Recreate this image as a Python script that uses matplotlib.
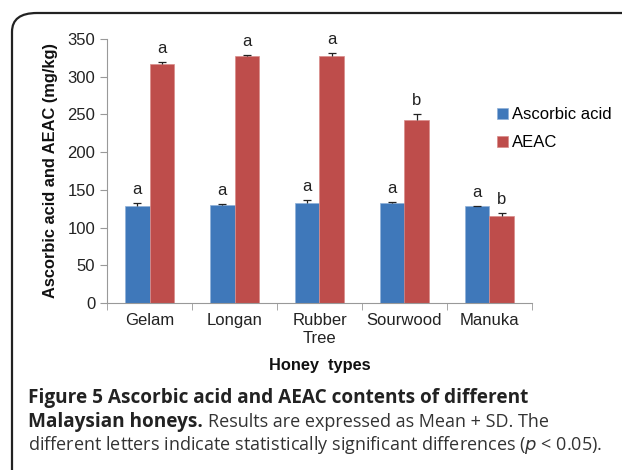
import matplotlib
matplotlib.use("Agg")
import matplotlib.pyplot as plt
import numpy as np
from matplotlib.patches import FancyBboxPatch

# honey types and values (mg/kg)
honeys = ["Gelam", "Longan", "Rubber\nTree", "Sourwood", "Manuka"]
ascorbic = [129, 130, 133, 132, 128]
ascorbic_sd = [4, 1, 3, 2, 1]
aeac = [317, 327, 328, 242, 115]
aeac_sd = [3, 2, 3, 8, 4]
ascorbic_letters = ["a", "a", "a", "a", "a"]
aeac_letters = ["a", "a", "a", "b", "b"]

blue = "#3F78BA"
red = "#BE4D4B"

plt.rcParams['font.family'] = ['Liberation Sans', 'DejaVu Sans']

fig = plt.figure(figsize=(6.22, 4.70), dpi=100)

# rounded frame round the figure
frame = FancyBboxPatch((12/622, -0.2), 1.2, 1 - 13/470 + 0.2,
                       boxstyle="round,pad=0,rounding_size=0.04",
                       transform=fig.transFigure, fill=False,
                       edgecolor="#222222", linewidth=1.6, clip_on=False)
fig.patches.append(frame)

ax = fig.add_axes([107/622, 1 - 303/470, 425/622, 264/470])

x = np.arange(len(honeys))
w = 0.286
ax.bar(x - w/2, ascorbic, w, color=blue, edgecolor="#8FB0D8", linewidth=0.5,
       label="Ascorbic acid", zorder=2)
ax.bar(x + w/2, aeac, w, color=red, edgecolor="#D98C8A", linewidth=0.5,
       label="AEAC", zorder=2)

# Mean + SD, upper whisker only
for vals, sd, off in [(ascorbic, ascorbic_sd, -w/2), (aeac, aeac_sd, w/2)]:
    eb = ax.errorbar(x + off, vals, yerr=[np.zeros(5), sd], fmt="none",
                     ecolor="#222222", elinewidth=0.9, capsize=3, capthick=0.9,
                     zorder=3)
    eb[1][0].set_visible(False)   # hide lower caps

for i in range(len(honeys)):
    ax.text(x[i] - w/2, ascorbic[i] + ascorbic_sd[i] + 8, ascorbic_letters[i],
            ha="center", va="bottom", fontsize=12, color="#222222")
    ax.text(x[i] + w/2, aeac[i] + aeac_sd[i] + 8, aeac_letters[i],
            ha="center", va="bottom", fontsize=12, color="#222222")

ax.set_xlim(-0.5, 4.5)
ax.set_ylim(0, 350)
ax.set_yticks(range(0, 351, 50))
ax.set_xticks(x)
ax.set_xticklabels(honeys, fontsize=12, color="#222222", linespacing=1.25)
ax.set_xticks(np.arange(-0.5, 5, 1), minor=True)
ax.tick_params(axis="x", which="major", length=0, pad=7)
ax.tick_params(axis="x", which="minor", length=5, color="#999999", direction="out")
ax.tick_params(axis="y", length=5, color="#999999", labelsize=12, labelcolor="#222222")

for s in ["top", "right"]:
    ax.spines[s].set_visible(False)
ax.spines["left"].set_color("#999999")
ax.spines["bottom"].set_color("#999999")

ax.set_ylabel("Ascorbic acid and AEAC (mg/kg)", fontsize=11.8, fontweight="bold",
              labelpad=7, color="#111111")
ax.set_xlabel("Honey  types", fontsize=11.8, fontweight="bold", labelpad=9,
              color="#111111")

fig.legend(loc="upper left", bbox_to_anchor=(482/622, 1 - 92/470), frameon=False,
           fontsize=12, handlelength=0.65, handleheight=0.65, handletextpad=0.25,
           labelspacing=0.8)

# caption
cap_bold = dict(fontsize=13.7, fontweight="bold", family="Open Sans", va="center",
                color="#222222")
cap_norm = dict(fontsize=13.0, family="Open Sans", va="center", color="#333333")
fig.text(28/622, 1 - 398/470, "Figure 5 Ascorbic acid and AEAC contents of different",
         **cap_bold)
t = fig.text(28/622, 1 - 422/470, "Malaysian honeys.", **cap_bold)
fig.canvas.draw()
bb = t.get_window_extent()
fig.text((bb.x1 + 5)/622, 1 - 422/470, "Results are expressed as Mean + SD. The",
         **cap_norm)
fig.text(28/622, 1 - 445/470,
         "different letters indicate statistically significant differences ($p$ < 0.05).",
         **cap_norm)

fig.savefig("out.png", dpi=100)
